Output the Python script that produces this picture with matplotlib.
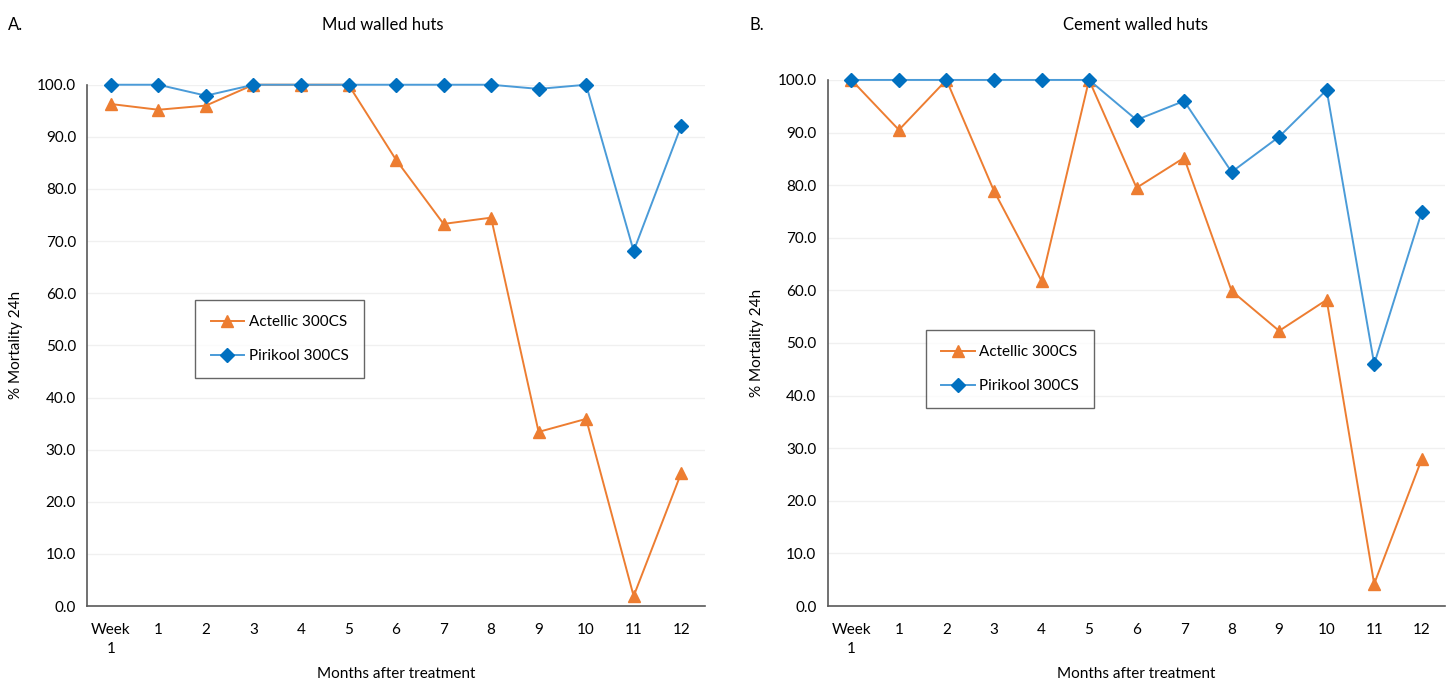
"""
Mortality 24h after treatment, mud vs cement walled huts
"""

import matplotlib
matplotlib.use("Agg")
import matplotlib.pyplot as plt

plt.rcParams["font.family"] = ["Lato", "DejaVu Sans"]

labels = ["Week\n1", "1", "2", "3", "4", "5", "6", "7", "8", "9", "10", "11", "12"]

mud_actellic = [96.3, 95.2, 96.0, 100.0, 100.0, 100.0, 85.6, 73.3, 74.5, 33.4, 35.9, 1.9, 25.5]
mud_pirikool = [100.0, 100.0, 97.9, 100.0, 100.0, 100.0, 100.0, 100.0, 100.0, 99.2, 100.0, 68.1, 92.1]

cem_actellic = [100.0, 90.5, 100.0, 78.9, 61.8, 100.0, 79.5, 85.2, 59.9, 52.3, 58.2, 4.2, 27.9]
cem_pirikool = [100.0, 100.0, 100.0, 100.0, 100.0, 100.0, 92.4, 96.0, 82.5, 89.2, 98.1, 46.0, 74.9]

orange = "#ED7D31"
blue_line = "#4A9BD8"
blue_mark = "#0070C0"

fig = plt.figure(figsize=(14.52, 6.85), dpi=100)
ax1 = fig.add_axes([0.060, 0.1153, 0.4255, 0.761])
ax2 = fig.add_axes([0.570, 0.1153, 0.4255, 0.768])

panels = [
    (ax1, mud_actellic, mud_pirikool, "A.", "Mud walled huts", 0.0055, 0.2637, (0.175, 0.437)),
    (ax2, cem_actellic, cem_pirikool, "B.", "Cement walled huts", 0.5165, 0.7817, (0.159, 0.376)),
]

x = list(range(len(labels)))

for ax, act, pir, letter, title, lx, tx, legpos in panels:
    ax.plot(x, act, "-^", color=orange, lw=1.4, ms=9, mec=orange, mfc=orange,
            label="Actellic 300CS", clip_on=False, zorder=3)
    ax.plot(x, pir, "-D", color=blue_line, lw=1.4, ms=7, mec=blue_mark, mfc=blue_mark,
            label="Pirikool 300CS", clip_on=False, zorder=4)

    ax.set_xlim(-0.5, len(labels) - 0.5)
    ax.set_ylim(0, 100)
    ax.set_yticks(range(0, 101, 10))
    ax.set_yticklabels(["%.1f" % v for v in range(0, 101, 10)], fontsize=11)
    ax.set_xticks(x)
    ax.set_xticklabels(labels, fontsize=11, va="top", linespacing=1.5)
    ax.tick_params(length=0, pad=8)
    ax.tick_params(axis="x", pad=12)

    ax.grid(axis="y", color="#F0F0F0", lw=1.0)
    ax.set_axisbelow(True)
    for s in ["top", "right"]:
        ax.spines[s].set_visible(False)
    for s in ["left", "bottom"]:
        ax.spines[s].set_color("#595959")
        ax.spines[s].set_linewidth(1.2)

    ax.set_ylabel("% Mortality 24h", fontsize=11, labelpad=10)
    ax.set_xlabel("Months after treatment", fontsize=11, labelpad=8)

    fig.text(lx, 0.975, letter, fontsize=12, va="top", ha="left")
    fig.text(tx, 0.975, title, fontsize=12, va="top", ha="center")

    leg = ax.legend(loc="lower left", bbox_to_anchor=legpos, frameon=True, fancybox=False,
                    fontsize=11, labelspacing=1.3, handlelength=2.2, handletextpad=0.3,
                    borderpad=1.0, borderaxespad=0)
    leg.get_frame().set_edgecolor("#404040")
    leg.get_frame().set_linewidth(1.0)

fig.savefig("out.png", dpi=100)
